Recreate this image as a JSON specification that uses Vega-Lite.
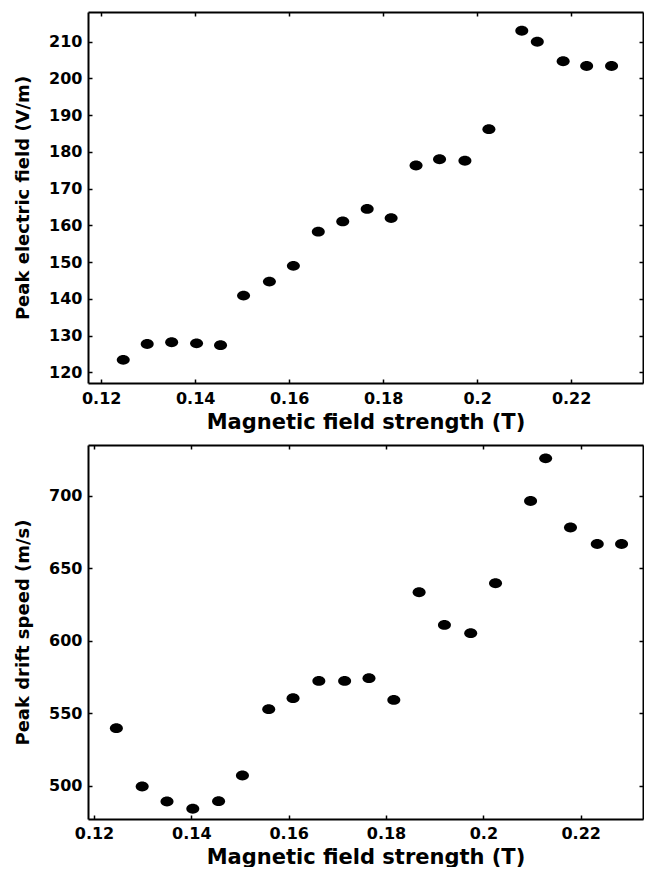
{
  "$schema": "https://vega.github.io/schema/vega-lite/v6.json",
  "padding": {"left": 14, "top": 11, "right": 0, "bottom": 0},
  "background": "white",
  "spacing": 12,
  "config": {
    "font": "DejaVu Sans",
    "view": {"stroke": null},
    "axis": {
      "grid": false,
      "domainColor": "black",
      "domainWidth": 2,
      "tickColor": "black",
      "tickWidth": 1.5,
      "tickSize": -4,
      "labelFont": "DejaVu Sans",
      "labelFontSize": 16,
      "labelFontWeight": "bold",
      "labelColor": "black",
      "titleFont": "DejaVu Sans",
      "titleFontWeight": "bold",
      "titleColor": "black",
      "labelFlush": false,
      "labelOverlap": false
    },
    "axisX": {"titleFontSize": 21},
    "axisY": {"titleFontSize": 18}
  },
  "datasets": {
    "efield": [
      {"B": 0.1247, "E": 123.4},
      {"B": 0.1298, "E": 127.7},
      {"B": 0.1350, "E": 128.2},
      {"B": 0.1403, "E": 127.9},
      {"B": 0.1454, "E": 127.4},
      {"B": 0.1503, "E": 140.9},
      {"B": 0.1558, "E": 144.7},
      {"B": 0.1609, "E": 149.0},
      {"B": 0.1662, "E": 158.3},
      {"B": 0.1714, "E": 161.1},
      {"B": 0.1766, "E": 164.5},
      {"B": 0.1817, "E": 162.0},
      {"B": 0.1870, "E": 176.3},
      {"B": 0.1920, "E": 178.0},
      {"B": 0.1974, "E": 177.6},
      {"B": 0.2025, "E": 186.2},
      {"B": 0.2095, "E": 213.0},
      {"B": 0.2128, "E": 210.0},
      {"B": 0.2183, "E": 204.7},
      {"B": 0.2233, "E": 203.4},
      {"B": 0.2286, "E": 203.4}
    ],
    "drift": [
      {"B": 0.1246, "V": 539.7},
      {"B": 0.1299, "V": 499.5},
      {"B": 0.1350, "V": 489.2},
      {"B": 0.1403, "V": 484.2},
      {"B": 0.1456, "V": 489.4},
      {"B": 0.1505, "V": 507.1},
      {"B": 0.1559, "V": 552.8},
      {"B": 0.1609, "V": 560.4},
      {"B": 0.1662, "V": 572.3},
      {"B": 0.1715, "V": 572.3},
      {"B": 0.1765, "V": 574.2},
      {"B": 0.1816, "V": 559.2},
      {"B": 0.1868, "V": 633.4},
      {"B": 0.1920, "V": 610.9},
      {"B": 0.1974, "V": 605.2},
      {"B": 0.2025, "V": 639.6},
      {"B": 0.2097, "V": 696.3},
      {"B": 0.2128, "V": 725.7},
      {"B": 0.2179, "V": 678.0},
      {"B": 0.2234, "V": 666.7},
      {"B": 0.2284, "V": 666.7}
    ]
  },
  "vconcat": [
    {
      "width": 555,
      "height": 371,
      "data": {"name": "efield"},
      "layer": [
        {
          "mark": {"type": "point", "shape": "M-1,0A1,0.76,0,1,0,1,0A1,0.76,0,1,0,-1,0Z", "size": 169, "filled": true, "color": "black", "opacity": 1, "strokeWidth": 0},
          "encoding": {
            "x": {"field": "B", "type": "quantitative",
                  "scale": {"domain": [0.1172, 0.23529], "nice": false, "zero": false},
                  "axis": {"values": [0.12, 0.14, 0.16, 0.18, 0.2, 0.22], "format": "~g", "title": "Magnetic field strength (T)", "labelPadding": 11, "titlePadding": 5}},
            "y": {"field": "E", "type": "quantitative",
                  "scale": {"domain": [117.1, 218.1], "nice": false, "zero": false},
                  "axis": {"values": [120, 130, 140, 150, 160, 170, 180, 190, 200, 210], "title": "Peak electric field (V/m)", "labelPadding": 10, "titlePadding": 16}}
          }
        },
        {
          "mark": {"type": "point", "opacity": 0},
          "encoding": {
            "x": {"field": "B", "type": "quantitative",
                  "axis": {"orient": "top", "values": [0.12, 0.14, 0.16, 0.18, 0.2, 0.22], "labels": false, "title": null}},
            "y": {"field": "E", "type": "quantitative",
                  "axis": {"orient": "right", "values": [120, 130, 140, 150, 160, 170, 180, 190, 200, 210], "labels": false, "title": null}}
          }
        }
      ],
      "resolve": {"axis": {"x": "independent", "y": "independent"}}
    },
    {
      "width": 555,
      "height": 374,
      "data": {"name": "drift"},
      "layer": [
        {
          "mark": {"type": "point", "shape": "M-1,0A1,0.76,0,1,0,1,0A1,0.76,0,1,0,-1,0Z", "size": 169, "filled": true, "color": "black", "opacity": 1, "strokeWidth": 0},
          "encoding": {
            "x": {"field": "B", "type": "quantitative",
                  "scale": {"domain": [0.11877, 0.2328], "nice": false, "zero": false},
                  "axis": {"values": [0.12, 0.14, 0.16, 0.18, 0.2, 0.22], "format": "~g", "title": "Magnetic field strength (T)", "labelPadding": 10, "titlePadding": 5}},
            "y": {"field": "V", "type": "quantitative",
                  "scale": {"domain": [477.1, 734.9], "nice": false, "zero": false},
                  "axis": {"values": [500, 550, 600, 650, 700], "title": "Peak drift speed (m/s)", "labelPadding": 10, "titlePadding": 16}}
          }
        },
        {
          "mark": {"type": "point", "opacity": 0},
          "encoding": {
            "x": {"field": "B", "type": "quantitative",
                  "axis": {"orient": "top", "values": [0.12, 0.14, 0.16, 0.18, 0.2, 0.22], "labels": false, "title": null}},
            "y": {"field": "V", "type": "quantitative",
                  "axis": {"orient": "right", "values": [500, 550, 600, 650, 700], "labels": false, "title": null}}
          }
        }
      ],
      "resolve": {"axis": {"x": "independent", "y": "independent"}}
    }
  ]
}
